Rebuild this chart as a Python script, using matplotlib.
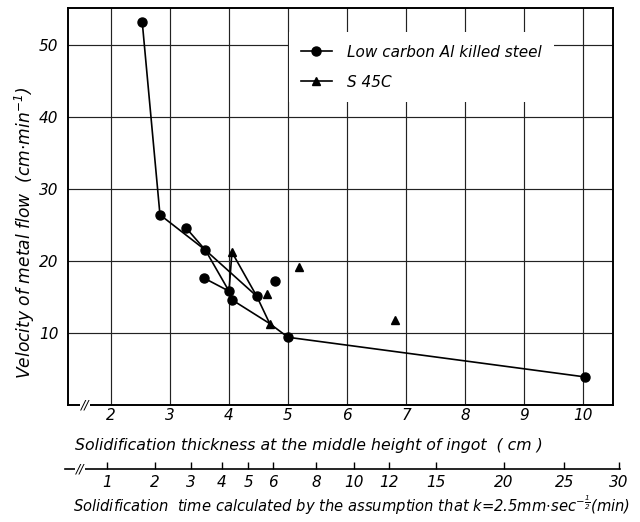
import numpy as np
import matplotlib
matplotlib.use("Agg")
import matplotlib.pyplot as plt
from matplotlib.lines import Line2D

# ---- data ----
lc_x = [2.53, 2.83, 3.27, 3.60, 3.58, 4.00, 4.05, 4.47, 4.78, 5.00, 10.03]
lc_y = [53.1, 26.4, 24.6, 21.5, 17.6, 15.8, 14.6, 15.1, 17.2, 9.4, 3.9]
s45_x = [4.05, 5.18, 4.64, 4.69, 6.81]
s45_y = [21.2, 19.1, 15.4, 11.3, 11.8]
# connecting segments (low carbon index pairs)
lc_links = [(0, 1), (1, 3), (2, 3), (3, 5), (3, 7), (4, 5), (9, 10)]
# connecting segments (low carbon index, S45C index)
cross_links = [(5, 0), (7, 0), (6, 3), (7, 3), (9, 3)]

x_ticks = [2, 3, 4, 5, 6, 7, 8, 9, 10]
y_ticks = [10, 20, 30, 40, 50]
t_ticks = [1, 2, 3, 4, 5, 6, 8, 10, 12, 15, 20, 25, 30]
k_const = 0.25  # cm / sec^0.5

plt.rcParams['font.family'] = ['DejaVu Sans']
plt.rcParams['font.style'] = 'italic'

W, H = 640, 522
fig = plt.figure(figsize=(6.4, 5.22), dpi=100)

def px2d(p):
    return 2 + (p - 111) / 59.0

L, R, T, B = 68, 613, 8, 405
ax = fig.add_axes([L / W, 1 - B / H, (R - L) / W, (B - T) / H])
ax.set_xlim(px2d(L), px2d(R))
ax.set_ylim(0, 55.1)

ax.set_xticks(x_ticks)
ax.set_yticks(y_ticks)
ax.grid(True, color='#222222', lw=0.85)
ax.tick_params(length=0, labelsize=11)
ax.tick_params(axis='x', pad=2)
ax.tick_params(axis='y', pad=7)
for s in ax.spines.values():
    s.set_linewidth(1.4)

for i, j in lc_links:
    ax.plot([lc_x[i], lc_x[j]], [lc_y[i], lc_y[j]], color='black', lw=1.2, zorder=3)
for i, j in cross_links:
    ax.plot([lc_x[i], s45_x[j]], [lc_y[i], s45_y[j]], color='black', lw=1.2, zorder=3)

ax.plot(lc_x, lc_y, 'o', color='black', ms=6.5, ls='none', zorder=4)
ax.plot(s45_x, s45_y, '^', color='black', ms=6, ls='none', zorder=4)

handles = [Line2D([], [], color='black', lw=1.2, marker='o', ms=6.5),
           Line2D([], [], color='black', lw=1.2, marker='^', ms=6)]
leg = ax.legend(handles, ['Low carbon Al killed steel', 'S 45C'],
                loc='upper left', bbox_to_anchor=(0.391, 0.958), numpoints=1,
                frameon=True, facecolor='white', edgecolor='none', framealpha=1,
                fontsize=11, handlelength=2.0, handletextpad=1.0,
                labelspacing=1.0, borderpad=0.8, fancybox=False)
leg.set_zorder(5)

ax.set_xlabel('Solidification thickness at the middle height of ingot  ( cm )',
              fontsize=11.3)
ax.xaxis.set_label_coords(0.442, -0.101)
ax.xaxis.label.set_va('center')
ax.set_ylabel('Velocity of metal flow  (cm$\\cdot$min$^{-1}$)', fontsize=12.3)
ax.yaxis.set_label_coords(-0.079, 0.433)
ax.yaxis.label.set_va('center')

# break mark on main axis
ax.text(0.031, 0.0, '//', transform=ax.transAxes, ha='center', va='center',
        fontsize=9, bbox=dict(fc='white', ec='none', pad=0.5), zorder=6)

# secondary (time) axis drawn as its own thin axes
def t2d(t):
    return np.sqrt(np.asarray(t, dtype=float) * 60.0) * k_const

SL, SR, SY = 65, 620, 469
ax2 = fig.add_axes([SL / W, 1 - SY / H, (SR - SL) / W, 0.0001])
ax2.set_xlim(px2d(SL), px2d(SR))
ax2.set_ylim(0, 1)
ax2.patch.set_visible(False)
for k in ['top', 'left', 'right']:
    ax2.spines[k].set_visible(False)
ax2.spines['bottom'].set_linewidth(1.2)
ax2.set_yticks([])
ax2.set_xticks(t2d(t_ticks))
ax2.set_xticklabels([str(t) for t in t_ticks])
ax2.tick_params(axis='x', direction='in', length=5, width=1, labelsize=11, pad=4)
ax2.text(px2d(80), 0, '//', ha='center', va='center', fontsize=9,
         bbox=dict(fc='white', ec='none', pad=0.5), zorder=6)

fig.text(351.5 / W, 1 - 505 / H,
         'Solidification  time calculated by the assumption that k=2.5mm$\\cdot$sec$^{-\\frac{1}{2}}$(min)',
         ha='center', va='center', fontsize=10.6)

fig.savefig('out.png', dpi=100)
